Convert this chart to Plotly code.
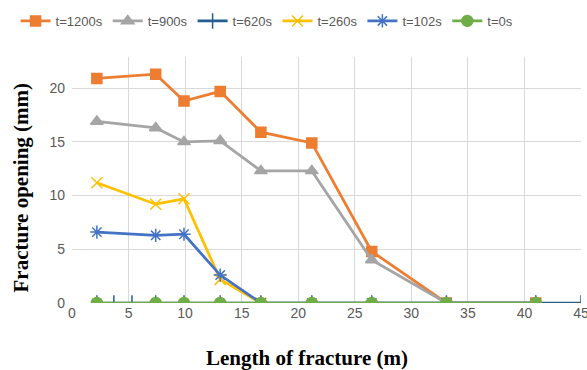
import plotly.graph_objects as go

x_main = [2.2, 7.4, 9.9, 13.1, 16.7, 21.2, 26.5, 33.1, 41.0]
y_1200 = [20.9, 21.3, 18.8, 19.7, 15.9, 14.9, 4.8, 0.0, 0.0]
y_900 = [16.9, 16.3, 15.0, 15.1, 12.3, 12.3, 4.0, 0.0, 0.0]
x_620 = [2.2, 3.7, 5.3, 7.4, 9.9, 13.1, 16.7, 21.2, 26.5, 33.1, 41.0, 45.0]
y_620 = [0.0] * len(x_620)
x_260 = [2.2, 7.4, 9.9, 13.1, 16.7]
y_260 = [11.2, 9.2, 9.7, 2.2, 0.0]
y_102 = [6.6, 6.3, 6.4, 2.6, 0.0, 0.0, 0.0, 0.0, 0.0]
y_0 = [0.0] * len(x_main)

x_ticks = [0, 5, 10, 15, 20, 25, 30, 35, 40, 45]
y_ticks = [0, 5, 10, 15, 20]

series = [
    ("t=1200s", x_main, y_1200, "#ED7D31", "square", 10),
    ("t=900s", x_main, y_900, "#A5A5A5", "triangle-up", 11),
    ("t=620s", x_620, y_620, "#255E91", "line-ns-open", 11),
    ("t=260s", x_260, y_260, "#FFC000", "x-thin-open", 11),
    ("t=102s", x_main, y_102, "#4472C4", "asterisk-open", 11),
    ("t=0s", x_main, y_0, "#70AD47", "circle", 11),
]

fig = go.Figure()
for name, xs, ys, col, sym, size in series:
    fig.add_trace(go.Scatter(
        x=xs, y=ys, name=name, mode="lines+markers",
        line=dict(color=col, width=2.75),
        marker=dict(symbol=sym, size=size, color=col,
                    line=dict(color=col, width=1.5)),
    ))

fig.update_layout(
    width=587, height=370,
    margin=dict(l=72, r=6, t=57, b=67),
    paper_bgcolor="white", plot_bgcolor="white",
    font=dict(family="Liberation Sans, Arial", size=13, color="#595959"),
    showlegend=True,
    legend=dict(orientation="h", xref="container", yref="container",
                x=0.455, xanchor="center", y=1 - 21 / 370, yanchor="middle",
                font=dict(size=13, color="#595959"), itemwidth=30,
                tracegroupgap=0, bgcolor="rgba(0,0,0,0)"),
    xaxis=dict(range=[0, 45], tickvals=x_ticks, ticktext=[str(v) for v in x_ticks],
               showgrid=True, gridcolor="#D9D9D9", gridwidth=1,
               zeroline=False, showline=False, ticks="", ticklabeloverflow="allow",
               automargin=False,
               tickfont=dict(size=14, color="#595959")),
    yaxis=dict(range=[0, 22.9], tickvals=y_ticks, ticktext=[str(v) for v in y_ticks],
               showgrid=True, gridcolor="#D9D9D9", gridwidth=1,
               zeroline=False, showline=False, ticks="", ticklabelstandoff=6,
               automargin=False,
               tickfont=dict(size=14, color="#595959")),
    annotations=[
        dict(text="<b>Length of fracture (m)</b>", xref="paper", yref="paper",
             x=0.462, y=-0.225, xanchor="center", yanchor="middle", showarrow=False,
             font=dict(family="Liberation Serif, Times New Roman", size=21, color="black")),
        dict(text="<b>Fracture opening (mm)</b>", xref="paper", yref="paper",
             x=-0.1, y=0.47, xanchor="center", yanchor="middle", showarrow=False,
             textangle=-90,
             font=dict(family="Liberation Serif, Times New Roman", size=21, color="black")),
    ],
)

fig.write_html("out.html")
